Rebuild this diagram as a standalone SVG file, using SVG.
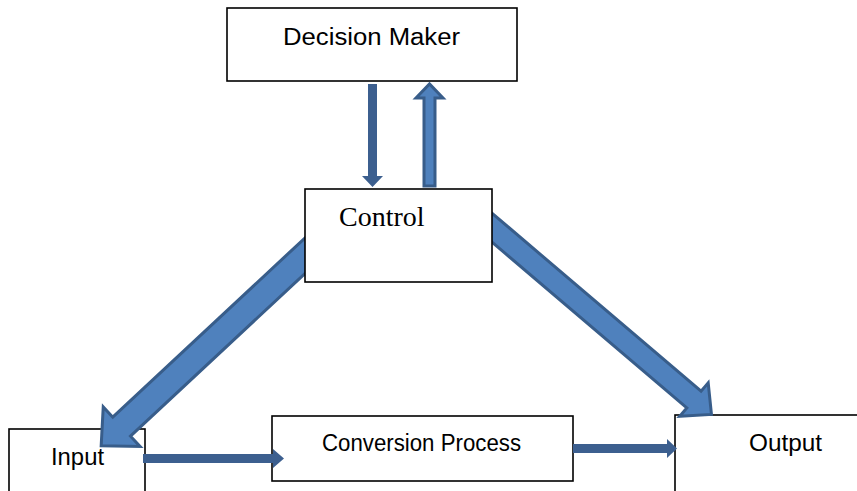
<svg xmlns="http://www.w3.org/2000/svg" width="857" height="491" viewBox="0 0 857 491">
  <defs>
    <style>
      .box { fill: #ffffff; stroke: #000000; stroke-width: 1.6; }
      .label { font-family: "Liberation Sans", Arial, sans-serif; font-size: 23px; fill: #000000; }
      .serif { font-family: "Liberation Serif", "Times New Roman", serif; font-size: 28px; fill: #000000; }
      .thin { fill: #3c5f8f; stroke: none; }
      .block { fill: #4f81bd; stroke: #385d8a; stroke-width: 3; stroke-linejoin: miter; }
    </style>
  </defs>
  <rect width="857" height="491" fill="#ffffff"/>

  <g id="decision-maker">
    <rect class="box" x="227" y="8" width="290" height="73"/>
    <text class="label" x="283" y="45" textLength="177" lengthAdjust="spacingAndGlyphs">Decision Maker</text>
  </g>

  <g id="input">
    <rect class="box" x="9" y="429" width="136" height="70"/>
    <text class="label" x="51" y="465" textLength="53" lengthAdjust="spacingAndGlyphs">Input</text>
  </g>

  <g id="conversion-process">
    <rect class="box" x="272" y="416" width="301" height="65"/>
    <text class="label" x="322" y="451" textLength="199" lengthAdjust="spacingAndGlyphs">Conversion Process</text>
  </g>

  <g id="output">
    <rect class="box" x="675" y="415" width="200" height="90"/>
    <text class="label" x="749" y="451" textLength="73" lengthAdjust="spacingAndGlyphs">Output</text>
  </g>

  <g id="connectors">
    <!-- Decision Maker to Control -->
    <polygon class="thin" points="368,84 377,84 377,176 383,176 372.5,187 362,176 368,176"/>
    <!-- Control to Decision Maker -->
    <polygon class="block" points="424,186 435,186 435,98 443,98 429.5,84 416,98 424,98"/>
    <!-- Control to Input -->
    <polygon class="block" transform="translate(314,247.3) rotate(137)"
             points="0,-13 263,-13 263,-27 291,0 263,27 263,13 0,13"/>
    <!-- Control to Output -->
    <polygon class="block" transform="translate(483,220) rotate(40.4)"
             points="0,-11 277,-11 277,-22 300,0 277,22 277,11 0,11"/>
    <!-- Input to Conversion Process -->
    <polygon class="thin" points="143,454 273,454 273,449 284,458.5 273,468 273,463 143,463"/>
    <!-- Conversion Process to Output -->
    <polygon class="thin" points="573,444 667,444 667,439 677,448.5 667,458 667,453 573,453"/>
  </g>

  <g id="control">
    <rect class="box" x="305" y="189" width="187" height="93" stroke="#333333"/>
    <text class="serif" x="339" y="226">Control</text>
  </g>
</svg>
